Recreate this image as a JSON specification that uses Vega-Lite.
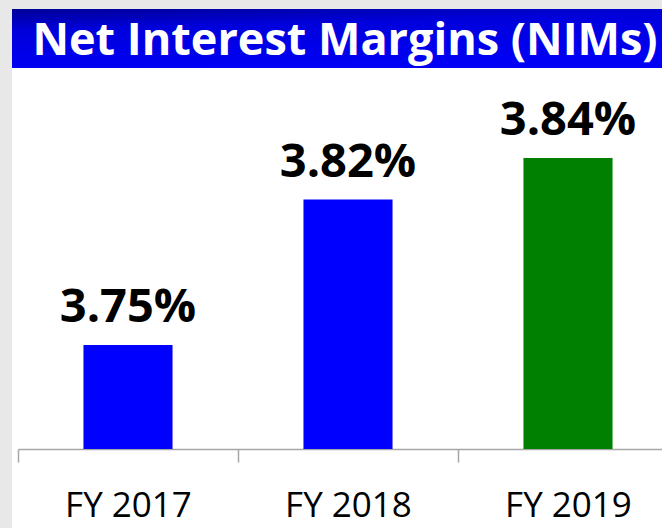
{
  "$schema": "https://vega.github.io/schema/vega-lite/v6.json",
  "background": "#e8e8e8",
  "padding": {"left": 12, "top": 9, "right": 0, "bottom": 0},
  "spacing": 0,
  "config": {"view": {"stroke": null}, "font": "Open Sans"},
  "vconcat": [
    {
      "width": 650,
      "height": 59,
      "view": {
        "stroke": null,
        "fill": {
          "gradient": "linear",
          "x1": 0, "y1": 0, "x2": 0.3, "y2": 1,
          "stops": [
            {"offset": 0, "color": "#000098"},
            {"offset": 0.35, "color": "#0000dc"},
            {"offset": 1, "color": "#0000f4"}
          ]
        }
      },
      "data": {"values": [{"title": "Net Interest Margins (NIMs)"}]},
      "mark": {"type": "text", "color": "white", "fontWeight": "bold", "fontSize": 45, "font": "Open Sans", "align": "center", "baseline": "middle", "dx": 8, "dy": 2},
      "encoding": {"text": {"field": "title", "type": "nominal"}}
    },
    {
      "width": 650,
      "height": 460,
      "view": {"fill": "white", "stroke": null},
      "data": {
        "values": [
          {"year": "FY 2017", "nim": 0.0375},
          {"year": "FY 2018", "nim": 0.0382},
          {"year": "FY 2019", "nim": 0.0384}
        ]
      },
      "encoding": {
        "x": {
          "field": "year",
          "type": "nominal",
          "sort": null,
          "scale": {"range": [6, 666], "paddingInner": 0, "paddingOuter": 0},
          "axis": {
            "title": null,
            "orient": "bottom",
            "offset": -79,
            "labelAngle": 0,
            "labelFont": "Open Sans",
            "labelFontSize": 35,
            "labelColor": "black",
            "labelBaseline": "alphabetic",
            "labelPadding": 54,
            "tickSize": 13,
            "tickColor": "#a6a6a6",
            "tickWidth": 1.5,
            "domainColor": "#a6a6a6",
            "domainWidth": 1.5,
            "tickBand": "extent",
            "grid": false
          }
        },
        "y": {
          "field": "nim",
          "type": "quantitative",
          "scale": {"domain": [0.03662, 0.038833], "zero": false},
          "axis": null
        }
      },
      "layer": [
        {
          "mark": {"type": "bar", "width": {"band": 0.405}},
          "encoding": {
            "y2": {"datum": 0.037},
            "color": {
              "field": "year",
              "type": "nominal",
              "scale": {"domain": ["FY 2017", "FY 2018", "FY 2019"], "range": ["#0000ff", "#0000ff", "#008000"]},
              "legend": null
            }
          }
        },
        {
          "mark": {"type": "text", "fontSize": 47, "fontWeight": "bold", "font": "Open Sans", "color": "black", "baseline": "alphabetic", "dy": -23},
          "encoding": {"text": {"field": "nim", "type": "quantitative", "format": ".2%"}}
        }
      ]
    }
  ]
}
